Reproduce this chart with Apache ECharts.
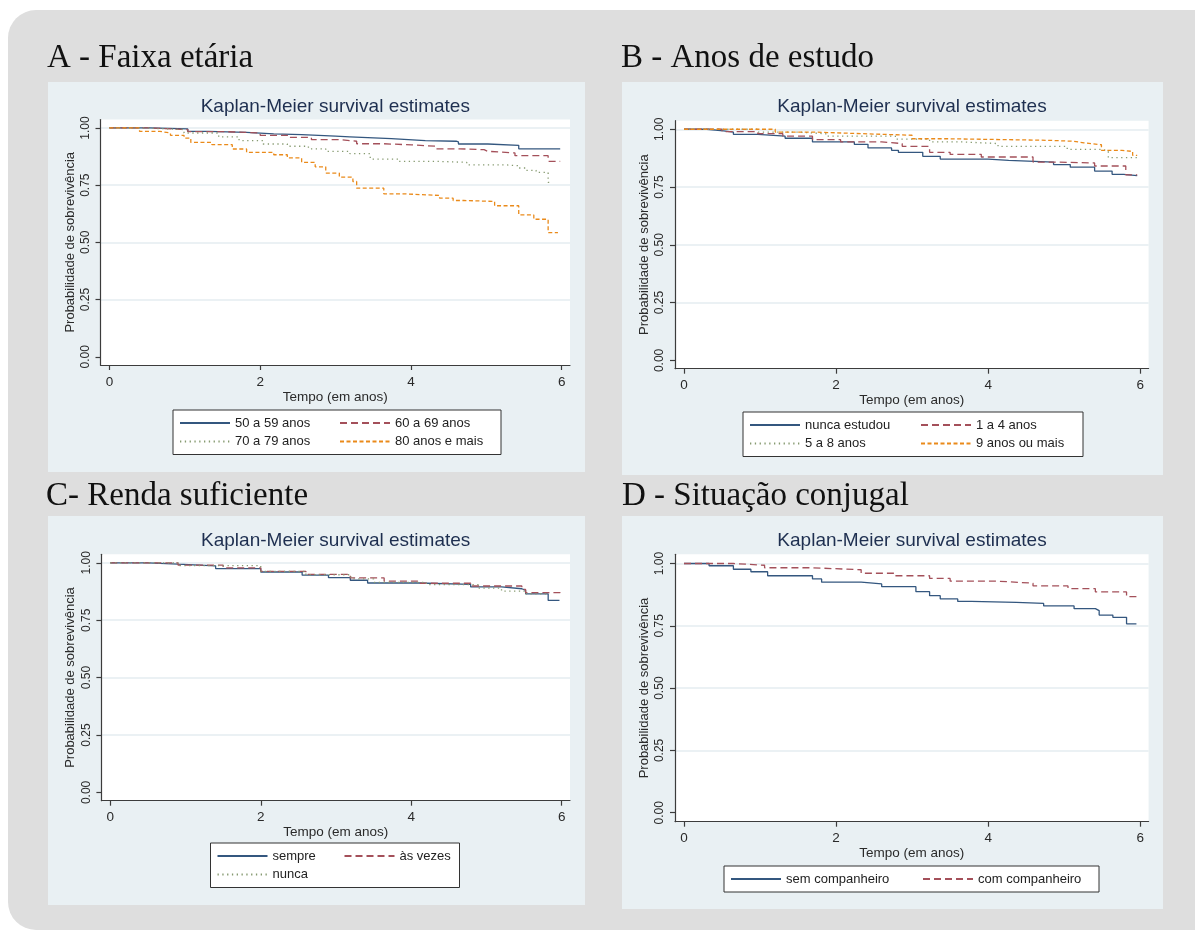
<!DOCTYPE html>
<html>
<head>
<meta charset="utf-8">
<script src="https://cdn.jsdelivr.net/npm/echarts@6/dist/echarts.min.js"></script>
<style>
html,body{margin:0;padding:0;background:#ffffff;}
#chart{width:1195px;height:932px;}
</style>
</head>
<body>
<div id="chart"></div>
<script>
// ---------------- data ----------------
const xTicks = [0, 2, 4, 6];
const yTicks = [0, 0.25, 0.5, 0.75, 1];
const headings = ['A - Faixa etária', 'B - Anos de estudo', 'C- Renda suficiente', 'D - Situação conjugal'];
const plotTitle = 'Kaplan-Meier survival estimates';
const xName = 'Tempo (em anos)';
const yName = 'Probabilidade de sobrevivência';

// A - Faixa etária
const namesA = ['50 a 59 anos', '60 a 69 anos', '70 a 79 anos', '80 anos e mais'];
const tA1 = [0, 0.53, 1.04, 1.31, 1.82, 2.18, 2.55, 3.0, 3.19, 3.74, 4.19, 4.6, 4.63, 5.02, 5.43, 5.98];
const sA1 = [1, 0.996, 0.985, 0.981, 0.974, 0.971, 0.964, 0.961, 0.953, 0.945, 0.942, 0.939, 0.930, 0.924, 0.909, 0.909];
const tA2 = [0, 0.53, 1.04, 1.54, 2.0, 2.36, 2.68, 3.05, 3.28, 3.64, 4.01, 4.33, 4.65, 4.97, 5.02, 5.38, 5.82, 5.98];
const sA2 = [1, 0.993, 0.984, 0.978, 0.968, 0.959, 0.949, 0.942, 0.931, 0.926, 0.920, 0.909, 0.905, 0.898, 0.891, 0.879, 0.854, 0.854];
const tA3 = [0, 0.44, 0.99, 1.45, 1.72, 2.04, 2.36, 2.64, 2.87, 3.19, 3.46, 3.83, 4.33, 4.74, 5.24, 5.43, 5.52, 5.66, 5.82, 5.88];
const sA3 = [1, 0.993, 0.978, 0.961, 0.945, 0.930, 0.920, 0.909, 0.898, 0.888, 0.864, 0.854, 0.850, 0.839, 0.835, 0.825, 0.815, 0.806, 0.762, 0.762];
const tA4 = [0, 0.4, 0.67, 0.81, 0.99, 1.08, 1.36, 1.63, 1.82, 2.18, 2.36, 2.55, 2.73, 2.87, 3.05, 3.23, 3.28, 3.64, 3.92, 4.38, 4.56, 4.7, 5.11, 5.43, 5.63, 5.82, 5.95];
const sA4 = [1, 0.985, 0.978, 0.968, 0.956, 0.937, 0.927, 0.908, 0.893, 0.883, 0.869, 0.850, 0.830, 0.803, 0.785, 0.766, 0.737, 0.712, 0.705, 0.693, 0.683, 0.679, 0.660, 0.620, 0.601, 0.543, 0.543];

// B - Anos de estudo
const namesB = ['nunca estudou', '1 a 4 anos', '5 a 8 anos', '9 anos ou mais'];
const tB1 = [0, 0.3, 0.52, 0.65, 0.97, 1.33, 1.69, 2.24, 2.42, 2.73, 2.82, 3.14, 3.37, 4.0, 4.27, 4.86, 5.08, 5.4, 5.63, 5.78, 5.96];
const sB1 = [1, 0.993, 0.988, 0.978, 0.970, 0.961, 0.945, 0.935, 0.919, 0.909, 0.900, 0.883, 0.871, 0.865, 0.858, 0.847, 0.836, 0.819, 0.805, 0.799, 0.799];
const tB2 = [0, 0.5, 0.97, 1.3, 1.69, 2.06, 2.6, 2.87, 3.23, 3.5, 3.91, 4.59, 4.9, 5.4, 5.81, 5.96];
const sB2 = [1, 0.990, 0.981, 0.970, 0.955, 0.945, 0.938, 0.926, 0.900, 0.891, 0.880, 0.858, 0.854, 0.841, 0.803, 0.803];
const tB3 = [0, 0.97, 1.5, 1.88, 2.78, 3.23, 3.68, 4.13, 5.04, 5.49, 5.58, 5.96];
const sB3 = [1, 0.988, 0.980, 0.970, 0.957, 0.945, 0.938, 0.926, 0.913, 0.906, 0.877, 0.877];
const tB4 = [0, 1.2, 1.69, 2.33, 3.0, 3.46, 4.81, 5.13, 5.26, 5.49, 5.76, 5.9, 5.96];
const sB4 = [1, 0.988, 0.981, 0.974, 0.959, 0.952, 0.948, 0.941, 0.933, 0.909, 0.904, 0.887, 0.887];

// C - Renda suficiente
const namesC = ['sempre', 'às vezes', 'nunca'];
const tC1 = [0, 0.5, 0.9, 1.4, 2.0, 2.55, 2.9, 3.19, 3.42, 4.1, 4.79, 5.2, 5.47, 5.52, 5.82, 5.97];
const sC1 = [1, 0.994, 0.987, 0.975, 0.960, 0.946, 0.935, 0.924, 0.912, 0.906, 0.895, 0.887, 0.880, 0.865, 0.836, 0.836];
const tC2 = [0, 0.9, 1.5, 2.0, 2.6, 3.19, 3.64, 4.1, 4.79, 5.47, 5.52, 5.98];
const sC2 = [1, 0.990, 0.978, 0.963, 0.950, 0.934, 0.920, 0.911, 0.899, 0.884, 0.870, 0.858];
const tC3 = [0, 0.9, 2.0, 2.6, 3.2, 3.5, 4.2, 4.9, 5.2, 5.5, 5.8];
const sC3 = [1, 0.988, 0.962, 0.948, 0.930, 0.915, 0.905, 0.890, 0.877, 0.865, 0.860];

// D - Situação conjugal
const namesD = ['sem companheiro', 'com companheiro'];
const tD1 = [0, 0.33, 0.65, 0.88, 1.1, 1.69, 1.81, 2.33, 2.6, 3.05, 3.23, 3.37, 3.6, 3.78, 4.37, 4.73, 5.13, 5.41, 5.46, 5.64, 5.82, 5.95];
const sD1 = [1, 0.991, 0.977, 0.967, 0.951, 0.938, 0.925, 0.918, 0.907, 0.887, 0.871, 0.858, 0.848, 0.844, 0.840, 0.830, 0.819, 0.811, 0.793, 0.784, 0.758, 0.758];
const tD2 = [0, 0.65, 1.06, 1.69, 2.33, 2.78, 3.23, 3.5, 4.14, 4.59, 5.05, 5.41, 5.82, 5.97];
const sD2 = [1, 0.993, 0.983, 0.975, 0.961, 0.951, 0.940, 0.929, 0.921, 0.910, 0.899, 0.886, 0.867, 0.867];

// ---------------- build ----------------
const pairs = (t, s) => t.map((x, i) => [x, s[i]]);
const SANS = 'Liberation Sans, Arial, sans-serif';
const SERIF = 'Liberation Serif, Times New Roman, serif';
const lineStyles = [
  { color: '#34577f', width: 1.3, type: 'solid' },
  { color: '#a4505a', width: 1.3, type: [7, 4] },
  { color: '#869a70', width: 1.3, type: [1.3, 3.5] },
  { color: '#ea8a1a', width: 1.3, type: [4, 2.5] }
];

const panels = [
  { names: namesA, t: [tA1, tA2, tA3, tA4], s: [sA1, sA2, sA3, sA4],
    grid: { left: 100.5, top: 119.5, width: 469.5, height: 245.5 },
    bg: { x: 48, y: 82, width: 537, height: 390 },
    head: { x: 47, y: 58 }, title: { x: 335.3, y: 106.7 },
    legend: { left: 173, top: 410, w1: 101.5, w2: 100 } },
  { names: namesB, t: [tB1, tB2, tB3, tB4], s: [sB1, sB2, sB3, sB4],
    grid: { left: 675, top: 120.7, width: 473.6, height: 248 },
    bg: { x: 622, y: 82, width: 541, height: 393 },
    head: { x: 621, y: 58 }, title: { x: 912, y: 106.7 },
    legend: { left: 743, top: 412, w1: 112.5, w2: 101 } },
  { names: namesC, t: [tC1, tC2, tC3], s: [sC1, sC2, sC3],
    grid: { left: 101.4, top: 554.3, width: 468.6, height: 246.4 },
    bg: { x: 48, y: 516, width: 537, height: 389 },
    head: { x: 46, y: 496 }, title: { x: 335.7, y: 541 },
    legend: { left: 210.5, top: 843, w1: 68.5, w2: 54 } },
  { names: namesD, t: [tD1, tD2], s: [sD1, sD2],
    grid: { left: 675, top: 554.3, width: 473.6, height: 267.4 },
    bg: { x: 622, y: 516, width: 541, height: 393 },
    head: { x: 622, y: 496 }, title: { x: 912, y: 541 },
    legend: { left: 724, top: 866, w1: 133.5, w2: 115 } }
];

const axisColor = '#3c3c3c';
const textColor = '#2a2a2a';
const gridColors = ['rgba(0,0,0,0)', '#e5edf0', '#e5edf0', '#e5edf0', '#e5edf0'];
const grids = [], xAxes = [], yAxes = [], series = [], legends = [];
const gfx = [
  { type: 'rect', z: -10, silent: true, shape: { x: 8, y: 10, width: 1240, height: 920, r: 28 }, style: { fill: '#dedede' } }
];

panels.forEach((p, k) => {
  grids.push(Object.assign({ show: true, backgroundColor: '#ffffff', borderWidth: 0, containLabel: false, outerBoundsMode: 'none' }, p.grid));
  xAxes.push({
    type: 'value', gridIndex: k, min: -0.118, max: 6.11,
    axisLine: { show: true, onZero: false, lineStyle: { color: axisColor, width: 1.2 } },
    axisTick: { show: true, customValues: xTicks, length: 5, lineStyle: { color: axisColor, width: 1.2 } },
    axisLabel: { show: true, customValues: xTicks, fontSize: 13.5, fontFamily: SANS, color: textColor, margin: 10 },
    splitLine: { show: false },
    name: xName, nameLocation: 'middle', nameGap: 25,
    nameTextStyle: { fontSize: 13.5, fontFamily: SANS, color: textColor }
  });
  yAxes.push({
    type: 'value', gridIndex: k, min: -0.036, max: 1.037,
    axisLine: { show: true, onZero: false, lineStyle: { color: axisColor, width: 1.2 } },
    axisTick: { show: true, customValues: yTicks, length: 5, lineStyle: { color: axisColor, width: 1.2 } },
    axisLabel: { show: true, customValues: yTicks, rotate: 90, fontSize: 12, fontFamily: SANS, color: textColor, margin: 9,
                 formatter: v => Number(v).toFixed(2) },
    splitLine: { show: true, lineStyle: { color: gridColors, width: 1.5 } },
    name: yName, nameLocation: 'middle', nameGap: 24,
    nameTextStyle: { fontSize: 13, fontFamily: SANS, color: textColor }
  });
  p.names.forEach((nm, j) => {
    series.push({
      type: 'line', name: nm, xAxisIndex: k, yAxisIndex: k,
      data: pairs(p.t[j], p.s[j]), step: 'end', symbol: 'none', showSymbol: false,
      lineStyle: Object.assign({}, lineStyles[j]), itemStyle: { color: lineStyles[j].color },
      emphasis: { disabled: true }, silent: true, z: 3
    });
  });
  const L = p.legend;
  const names = p.names;
  const richBase = { fontSize: 13, fontFamily: SANS, color: '#222', lineHeight: 16 };
  legends.push({
    show: true, orient: 'horizontal', left: L.left, top: L.top,
    width: 55 + L.w1 + 2.5 + 55 + L.w2 + 12 + 10,
    padding: [5, 6, 5, 6], itemGap: 2.5, itemWidth: 50, itemHeight: 20,
    borderColor: '#333', borderWidth: 1, backgroundColor: '#ffffff', borderRadius: 0,
    selectedMode: false, data: names.slice(),
    itemStyle: { opacity: 0 },
    formatter: nm => '{' + (names.indexOf(nm) % 2 === 0 ? 'a' : 'b') + '|' + nm + '}',
    textStyle: { fontSize: 13, fontFamily: SANS, color: '#222',
      rich: { a: Object.assign({ width: L.w1 }, richBase), b: Object.assign({ width: L.w2 }, richBase) } }
  });
  gfx.push({ type: 'rect', z: -5, silent: true, shape: p.bg, style: { fill: '#e9f0f3' } });
  gfx.push({ type: 'text', z: 20, silent: true, x: p.head.x, y: p.head.y,
    style: { text: headings[k], font: '33px ' + SERIF, fill: '#111111', textAlign: 'left', textVerticalAlign: 'middle' } });
  gfx.push({ type: 'text', z: 20, silent: true, x: p.title.x, y: p.title.y,
    style: { text: plotTitle, font: '19px ' + SANS, fill: '#1e2f50', textAlign: 'center', textVerticalAlign: 'middle' } });
});

const chart = echarts.init(document.getElementById('chart'), null, { renderer: 'canvas' });
chart.setOption({
  animation: false,
  backgroundColor: '#ffffff',
  graphic: { elements: gfx },
  grid: grids, xAxis: xAxes, yAxis: yAxes,
  legend: legends, series: series,
  tooltip: { show: false }
});
</script>
</body>
</html>
